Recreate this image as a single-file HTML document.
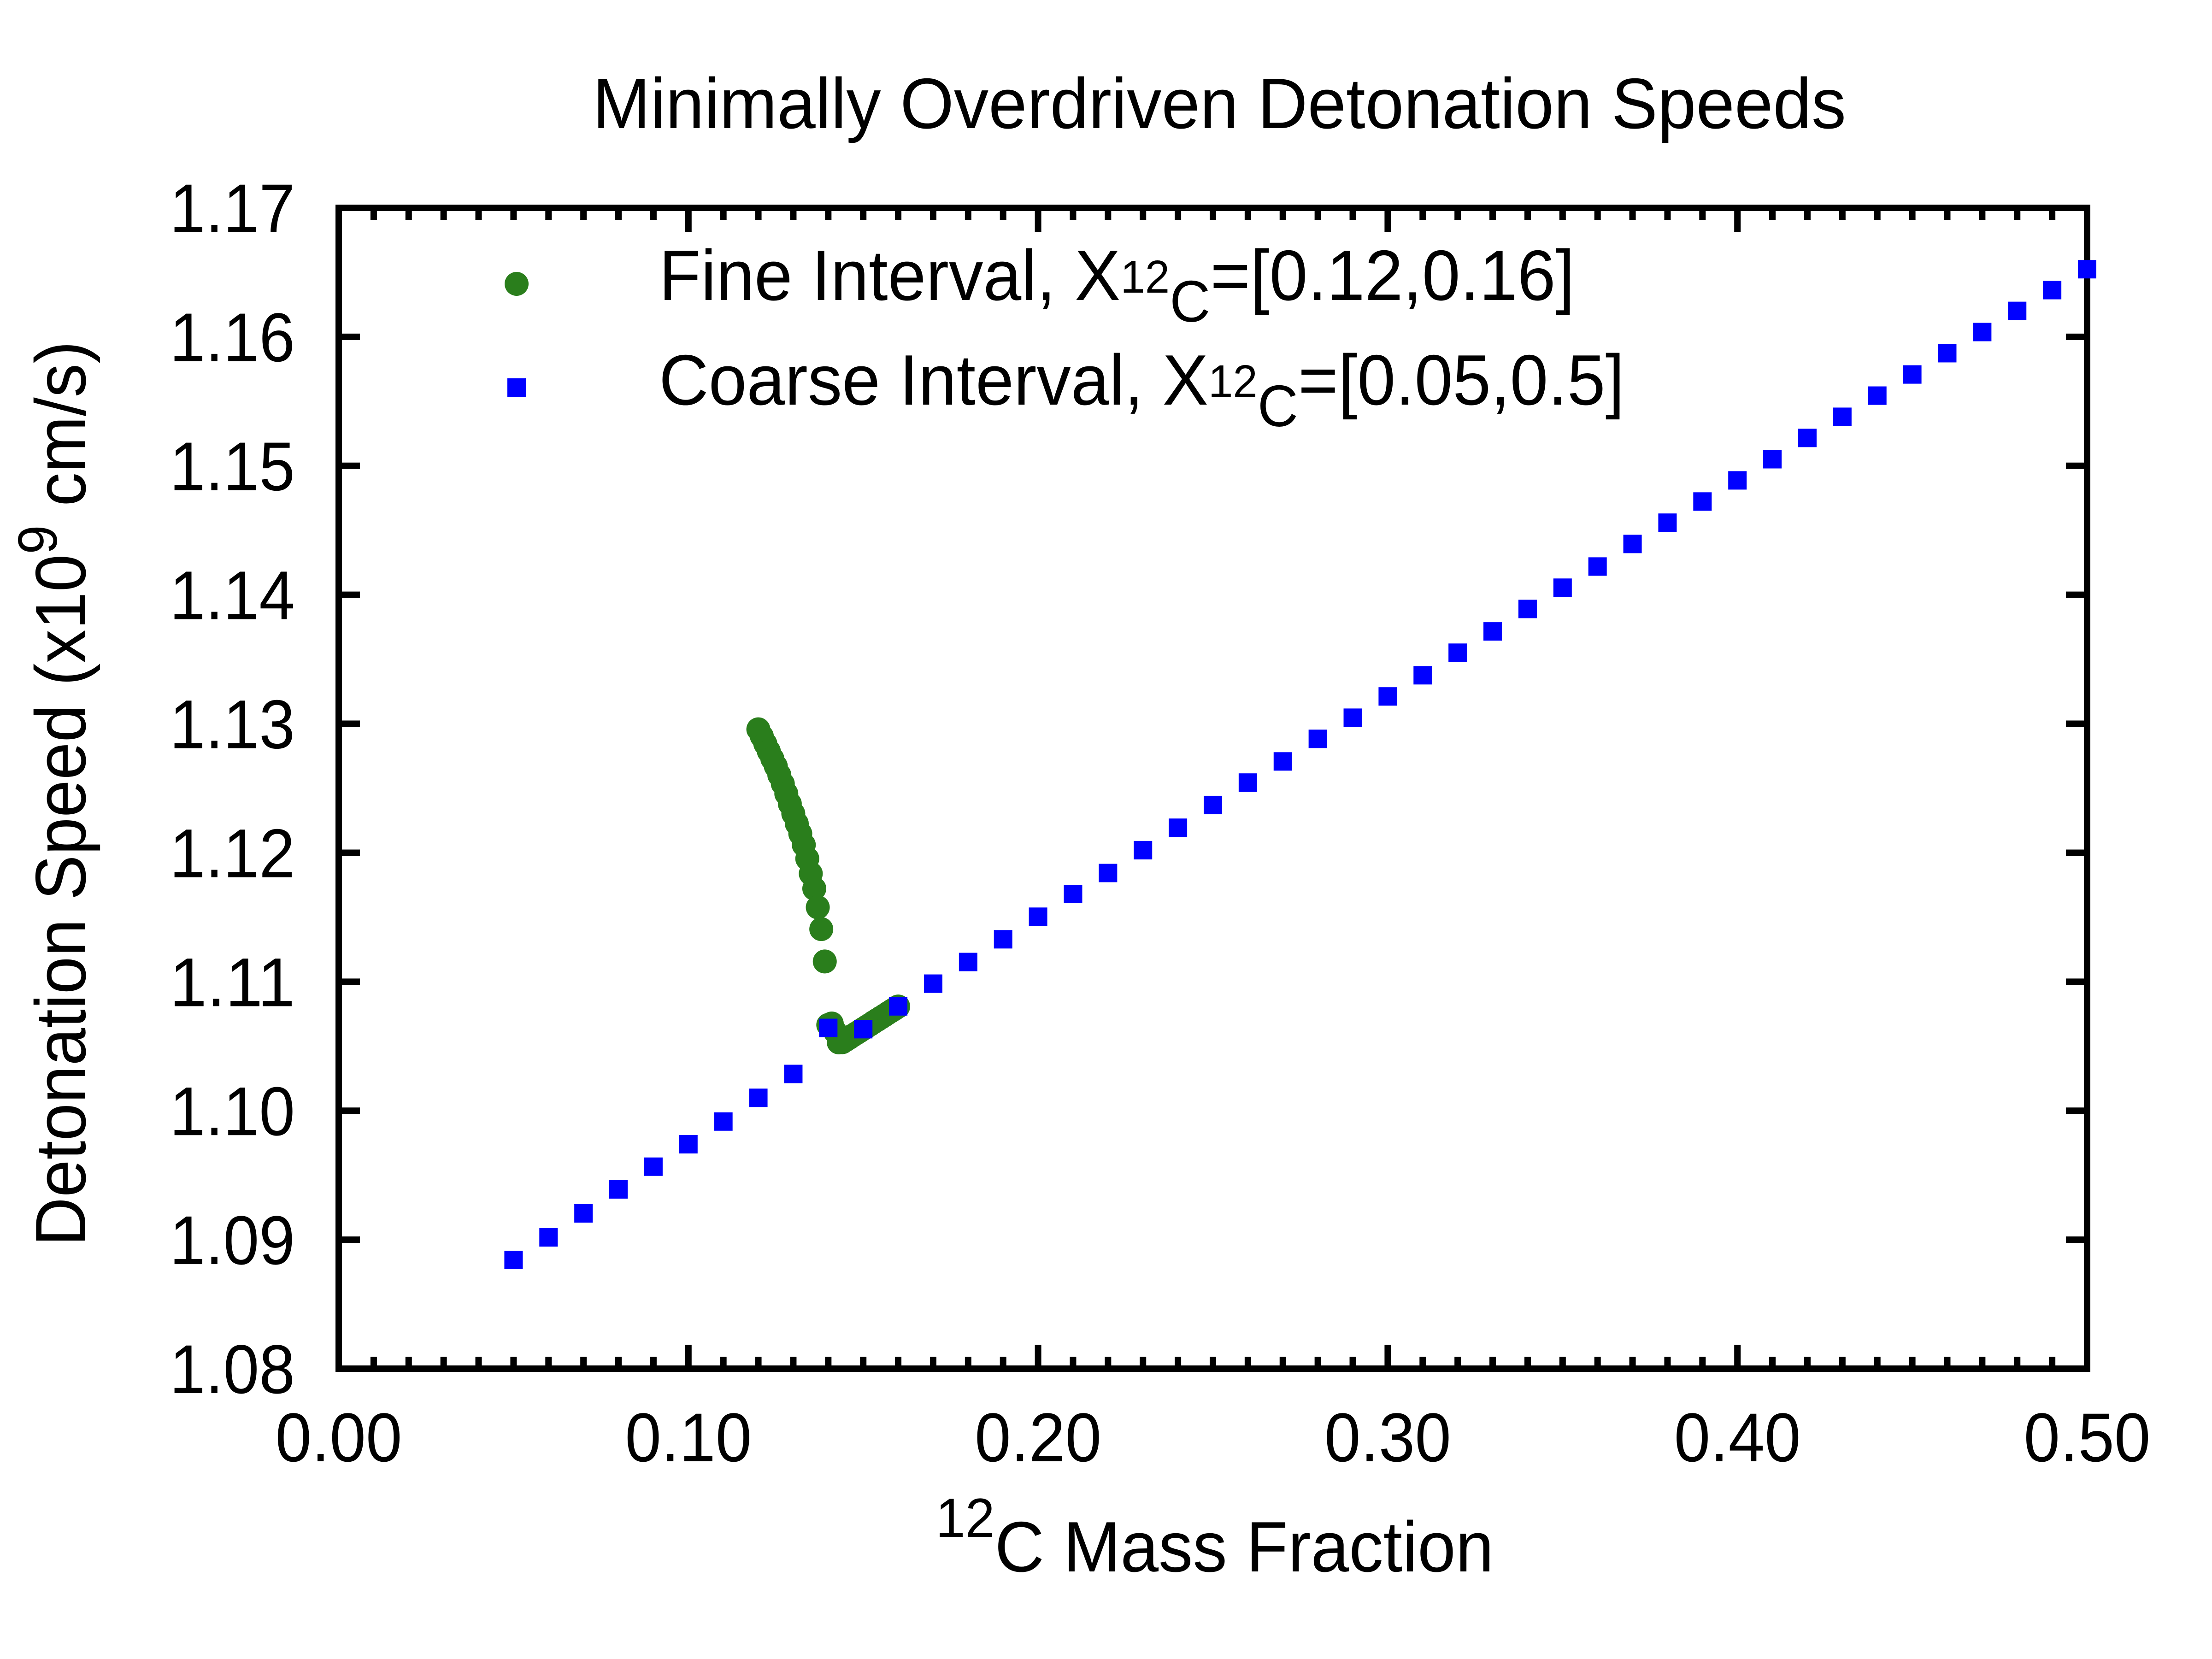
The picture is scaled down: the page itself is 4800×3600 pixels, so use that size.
<!DOCTYPE html>
<html><head><meta charset="utf-8"><title>Minimally Overdriven Detonation Speeds</title>
<style>html,body{margin:0;padding:0;background:#fff}svg{display:block}text{font-family:"Liberation Sans",sans-serif;fill:#000}</style>
</head><body>
<svg id="chart" xmlns="http://www.w3.org/2000/svg" width="4800" height="3600" viewBox="0 0 4800 3600">
<rect x="0" y="0" width="4800" height="3600" fill="#fff"/>
<text x="2646" y="278" font-size="155" text-anchor="middle" textLength="2720" lengthAdjust="spacingAndGlyphs">Minimally Overdriven Detonation Speeds</text>
<text transform="translate(185,1722) rotate(-90)" font-size="155" text-anchor="middle" textLength="1964" lengthAdjust="spacingAndGlyphs">Detonation Speed (x10<tspan font-size="120" dy="-62">9</tspan><tspan dy="62"> cm/s)</tspan></text>
<text x="2636" y="3410" font-size="155" text-anchor="middle" textLength="1211" lengthAdjust="spacingAndGlyphs"><tspan font-size="120" dy="-75">12</tspan><tspan dy="75">C Mass Fraction</tspan></text>
<g id="ticks"></g>
<g id="coarse"></g>
<g id="fine"></g>
<rect x="735" y="451" width="3794" height="2519" fill="none" stroke="#000" stroke-width="14"/>
<g>
<ellipse cx="1121" cy="616" rx="26" ry="26" fill="#2a7e1c"/>
<text x="1430" y="651" font-size="155" textLength="1987" lengthAdjust="spacingAndGlyphs">Fine Interval, X<tspan font-size="100" dy="-16">12</tspan><tspan font-size="127" dy="63">C</tspan><tspan dy="-47">=[0.12,0.16]</tspan></text>
<rect x="1101" y="821" width="40" height="40" fill="#0000ff"/>
<text x="1430" y="878" font-size="155" textLength="2095" lengthAdjust="spacingAndGlyphs">Coarse Interval, X<tspan font-size="100" dy="-16">12</tspan><tspan font-size="127" dy="63">C</tspan><tspan dy="-47">=[0.05,0.5]</tspan></text>
</g>
</svg>
<script>
const xTickValues = [0.00, 0.10, 0.20, 0.30, 0.40, 0.50];
const xTickLabels = ["0.00", "0.10", "0.20", "0.30", "0.40", "0.50"];
const yTickValues = [1.08, 1.09, 1.10, 1.11, 1.12, 1.13, 1.14, 1.15, 1.16, 1.17];
const yTickLabels = ["1.08", "1.09", "1.10", "1.11", "1.12", "1.13", "1.14", "1.15", "1.16", "1.17"];
const coarseX = [0.05,0.06,0.07,0.08,0.09,0.10,0.11,0.12,0.13,0.14,0.15,0.16,0.17,0.18,0.19,0.20,0.21,0.22,0.23,0.24,0.25,0.26,0.27,0.28,0.29,0.30,0.31,0.32,0.33,0.34,0.35,0.36,0.37,0.38,0.39,0.40,0.41,0.42,0.43,0.44,0.45,0.46,0.47,0.48,0.49,0.50];
const coarseY = [1.08843,1.09018,1.09204,1.0939,1.09566,1.0974,1.09916,1.1010,1.10285,1.10642,1.10632,1.10809,1.10985,1.11153,1.11329,1.11504,1.1168,1.11843,1.1202,1.12194,1.1237,1.12544,1.12708,1.12883,1.13047,1.13212,1.13376,1.13551,1.13716,1.1389,1.14055,1.14219,1.14394,1.14559,1.14723,1.14887,1.15051,1.15216,1.1538,1.15544,1.15708,1.15873,1.16037,1.16201,1.16362,1.16524];
const fineX = [0.120,0.121,0.122,0.123,0.124,0.125,0.126,0.127,0.128,0.129,0.130,0.131,0.132,0.133,0.134,0.135,0.136,0.137,0.138,0.139,0.140,0.141,0.142,0.143,0.144,0.145,0.146,0.147,0.148,0.149,0.150,0.151,0.152,0.153,0.154,0.155,0.156,0.157,0.158,0.159,0.160];
const fineY = [1.12957,1.12903,1.12845,1.12787,1.12729,1.12671,1.12603,1.12535,1.12458,1.1238,1.12303,1.12226,1.12148,1.12061,1.11954,1.11838,1.11722,1.11577,1.11408,1.11157,1.10665,1.10676,1.10612,1.1053,1.10531,1.10548,1.10565,1.10583,1.106,1.10617,1.10635,1.10652,1.10669,1.10687,1.10704,1.10721,1.10738,1.10756,1.10773,1.1079,1.10808];

const NS = "http://www.w3.org/2000/svg";
const X0 = 735, X1 = 4529, Y0 = 2970, Y1 = 451;
function xs(v){ return X0 + (v - 0) / 0.5 * (X1 - X0); }
function ys(v){ return Y0 - (v - 1.08) / 0.09 * (Y0 - Y1); }
function mk(tag, attrs){ const e = document.createElementNS(NS, tag); for (const k in attrs) e.setAttribute(k, attrs[k]); return e; }

const ticks = document.getElementById('ticks');
for (let i = 1; i < 50; i++) {
  if (i % 10 === 0) continue;
  const x = xs(i * 0.01);
  const b = mk('line', {x1:x, y1:Y0, x2:x, y2:Y0-26, stroke:'#000', 'stroke-width':14});
  
  
  ticks.appendChild(b);
  const t = mk('line', {x1:x, y1:Y1, x2:x, y2:Y1+26, stroke:'#000', 'stroke-width':14});
  
  
  ticks.appendChild(t);
}
xTickValues.forEach((v, i) => {
  const x = xs(v);
  const b = mk('line', {x1:x, y1:Y0, x2:x, y2:Y0-52, stroke:'#000', 'stroke-width':14});
  
  
  ticks.appendChild(b);
  const t = mk('line', {x1:x, y1:Y1, x2:x, y2:Y1+52, stroke:'#000', 'stroke-width':14});
  
  
  ticks.appendChild(t);
  const lab = mk('text', {x:x, y:3171, 'font-size':150, 'text-anchor':'middle', textLength:275, lengthAdjust:'spacingAndGlyphs'});
  lab.textContent = xTickLabels[i];
  
  
  ticks.appendChild(lab);
});
yTickValues.forEach((v, i) => {
  const y = ys(v);
  const l = mk('line', {x1:X0, y1:y, x2:X0+46, y2:y, stroke:'#000', 'stroke-width':14});
  
  
  ticks.appendChild(l);
  const r = mk('line', {x1:X1, y1:y, x2:X1-46, y2:y, stroke:'#000', 'stroke-width':14});
  
  
  ticks.appendChild(r);
  const lab = mk('text', {x:640, y:y+53, 'font-size':150, 'text-anchor':'end', textLength:272, lengthAdjust:'spacingAndGlyphs'});
  lab.textContent = yTickLabels[i];
  
  
  ticks.appendChild(lab);
});

const fine = document.getElementById('fine');
fineX.forEach((v, i) => {
  const c = mk('circle', {cx:xs(v), cy:ys(fineY[i]), r:26, fill:'#2a7e1c'});
  
  
  fine.appendChild(c);
});
const coarse = document.getElementById('coarse');
coarseX.forEach((v, i) => {
  const r = mk('rect', {x:xs(v)-20, y:ys(coarseY[i])-20, width:40, height:40, fill:'#0000ff'});
  
  
  coarse.appendChild(r);
});
coarse.parentNode.appendChild(coarse);
</script>
</body></html>
